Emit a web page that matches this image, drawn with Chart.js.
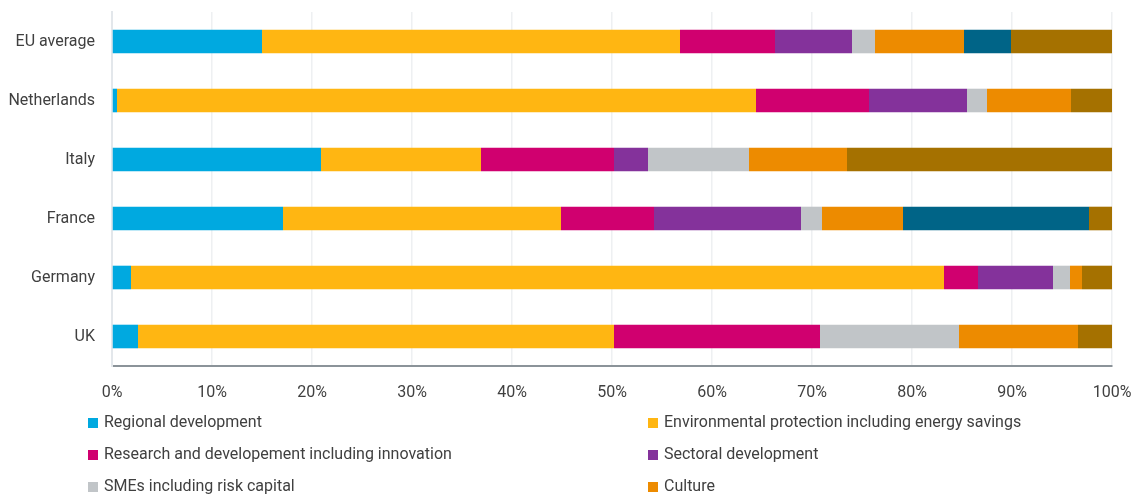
<!DOCTYPE html>
<html>
<head>
<meta charset="utf-8">
<script src="https://cdn.jsdelivr.net/npm/chart.js@4"></script>
<style>
  html, body { margin: 0; padding: 0; background: #ffffff; overflow: hidden; }
  #wrap { position: relative; width: 1140px; height: 494px; }
</style>
</head>
<body>
<div id="wrap"><canvas id="c" width="1140" height="494"></canvas></div>
<script>
const categories = ['EU average', 'Netherlands', 'Italy', 'France', 'Germany', 'UK'];
const seriesNames = [
  'Regional development',
  'Environmental protection including energy savings',
  'Research and developement including innovation',
  'Sectoral development',
  'SMEs including risk capital',
  'Culture',
  'Employment',
  'Other'
];
const regional      = [15.0,  0.5, 20.9, 17.1,  1.9,  2.6];
const environmental = [41.8, 63.9, 16.0, 27.8, 81.3, 47.6];
const research      = [ 9.5, 11.3, 13.3,  9.3,  3.4, 20.6];
const sectoral      = [ 7.7,  9.8,  3.4, 14.7,  7.5,  0.0];
const smes          = [ 2.3,  2.0, 10.1,  2.1,  1.7, 13.9];
const culture       = [ 8.9,  8.4,  9.8,  8.1,  1.2, 11.9];
const employment    = [ 4.7,  0.0,  0.0, 18.6,  0.0,  0.0];
const other         = [10.1,  4.1, 26.5,  2.3,  3.0,  3.4];
const xTicks = [0, 10, 20, 30, 40, 50, 60, 70, 80, 90, 100];

const colors = ['#00a9e0', '#ffb612', '#d0006f', '#84329b', '#c1c5c8', '#ed8b00', '#006487', '#a57100'];
const values = [regional, environmental, research, sectoral, smes, culture, employment, other];

const FONT = 'Roboto, "DejaVu Sans", sans-serif';
const TEXT = '#404040';

const legendPlugin = {
  id: 'gridLegend',
  afterDraw(chart) {
    const ctx = chart.ctx;
    ctx.save();
    ctx.font = '16px ' + FONT;
    ctx.textBaseline = 'middle';
    ctx.textAlign = 'left';
    chart.data.datasets.forEach((ds, i) => {
      const col = i % 2;
      const row = Math.floor(i / 2);
      const bx = col === 0 ? 88 : 648;
      const cy = 423 + row * 32;
      ctx.fillStyle = ds.backgroundColor;
      ctx.fillRect(bx, cy - 5, 10, 10);
      ctx.fillStyle = TEXT;
      ctx.fillText(ds.label, bx + 16, cy);
    });
    ctx.restore();
  }
};

new Chart(document.getElementById('c'), {
  type: 'bar',
  data: {
    labels: categories,
    datasets: seriesNames.map((name, i) => ({
      label: name,
      data: values[i],
      backgroundColor: colors[i],
      borderWidth: 0,
      barPercentage: 0.4,
      categoryPercentage: 1.0
    }))
  },
  options: {
    indexAxis: 'y',
    responsive: false,
    animation: false,
    layout: { padding: { top: 12, right: 28, bottom: 88, left: 0 } },
    plugins: {
      legend: { display: false },
      tooltip: { enabled: false }
    },
    scales: {
      x: {
        stacked: true,
        min: 0,
        max: 100,
        afterBuildTicks(scale) { scale.ticks = xTicks.map(v => ({ value: v })); },
        afterFit(scale) {
          scale.height = 40;
          scale.paddingLeft = 0; scale.paddingRight = 0;
        },
        ticks: {
          callback: v => v + '%',
          color: TEXT,
          font: { family: FONT, size: 16 },
          padding: 17,
          maxRotation: 0
        },
        grid: { color: '#eef0f2', lineWidth: 1.5, drawTicks: false },
        border: { display: true, color: '#8b9399', width: 2 }
      },
      y: {
        stacked: true,
        afterFit(scale) {
          scale.width = 112;
          scale.paddingTop = 0; scale.paddingBottom = 0;
        },
        ticks: {
          color: TEXT,
          font: { family: FONT, size: 16 },
          padding: 17
        },
        grid: { display: false, drawTicks: false },
        border: { display: true, color: '#e3e7eb', width: 2 }
      }
    }
  },
  plugins: [legendPlugin]
});
</script>
</body>
</html>
